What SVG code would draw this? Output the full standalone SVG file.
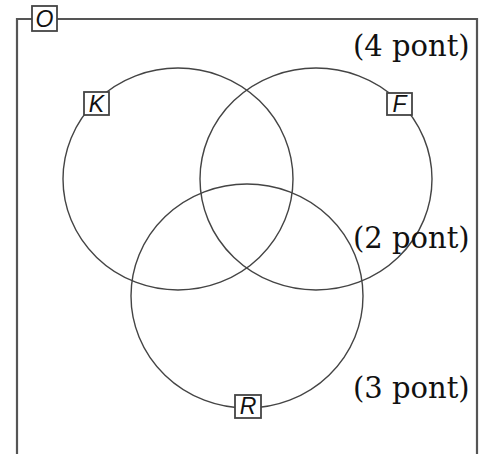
<svg xmlns="http://www.w3.org/2000/svg" width="483" height="454" viewBox="0 0 483 454">
<style>
.frame{fill:none;stroke:#555;stroke-width:2.2}
.circ{fill:none;stroke:#444;stroke-width:1.4}
.lbox{fill:#fff;stroke:#444;stroke-width:1.8}
.ltxt{font-family:"Liberation Sans",Arial,sans-serif;font-style:italic;font-size:23px;fill:#111;text-anchor:middle}
.pt{font-family:"DejaVu Serif","Liberation Serif",serif;font-size:29px;fill:#111}
</style>
<rect width="483" height="454" fill="#fff"/>
<g id="universe">
<path class="frame" d="M17,454 V19 H477 V454"/>
</g>
<g id="connectors"></g>
<g id="circle-K"><ellipse class="circ" cx="178" cy="179" rx="115" ry="111"/></g>
<g id="circle-F"><ellipse class="circ" cx="316" cy="179" rx="116" ry="111"/></g>
<g id="circle-R"><ellipse class="circ" cx="247" cy="296" rx="116" ry="112"/></g>
<g id="label-O"><rect class="lbox" x="32" y="6" width="25" height="25"/><text class="ltxt" x="44.5" y="26.5">O</text></g>
<g id="label-K"><rect class="lbox" x="84" y="92" width="25" height="23"/><text class="ltxt" x="96.5" y="111.5">K</text></g>
<g id="label-F"><rect class="lbox" x="387" y="93" width="25" height="22"/><text class="ltxt" x="399.5" y="112">F</text></g>
<g id="label-R"><rect class="lbox" x="235" y="395" width="26" height="23"/><text class="ltxt" x="248" y="414">R</text></g>
<g id="points">
<text class="pt" x="353" y="56">(4 pont)</text>
<text class="pt" x="353" y="248">(2 pont)</text>
<text class="pt" x="353" y="398">(3 pont)</text>
</g>
</svg>
